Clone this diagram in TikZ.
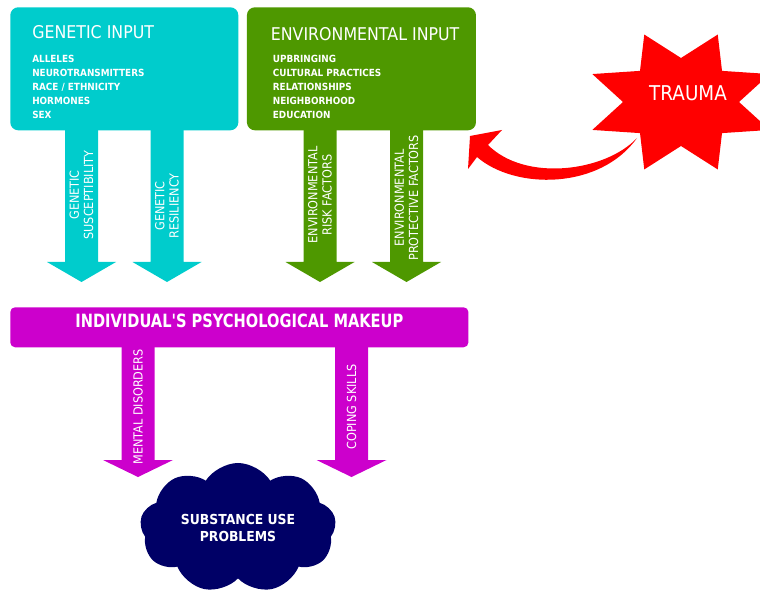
\documentclass[tikz,border=0pt]{standalone}
\usepackage{fontspec}
\setmainfont{DejaVu Sans}[FakeStretch=0.9]
\newfontfamily\narrowsf{DejaVu Sans}[FakeStretch=0.8]
\usetikzlibrary{positioning, shapes.symbols}
\definecolor{genC}{RGB}{0,204,204}
\definecolor{envC}{RGB}{78,152,0}
\definecolor{psyC}{RGB}{204,0,204}
\definecolor{subC}{RGB}{0,0,102}
\definecolor{trC}{RGB}{255,0,0}
\tikzset{
  inbox/.style={rounded corners=0.2cm, inner sep=0pt, minimum width=5.7cm, minimum height=3.075cm},
  ttl/.style={text=white, inner sep=0pt, font=\fontsize{12.5}{14}\selectfont},
  lst/.style={text=white, inner sep=0pt, align=left, font=\bfseries\fontsize{7}{9.96}\selectfont},
  flab/.style={text=white, inner sep=0pt, align=center, rotate=90, font=\fontsize{8.9}{10.2}\selectfont}
}

\begin{document}
\begin{tikzpicture}[x=0.025cm, y=-0.025cm]
\useasboundingbox (0,0) rectangle (760,596);
% input boxes
\node[inbox, fill=genC, anchor=north west] (gen) at (10,7) {};
\node[inbox, fill=envC, minimum width=5.725cm, right=0.2cm of gen] (env) {};
\node[ttl, below right=0.45cm and 0.55cm of gen.north west] (gent) {GENETIC INPUT};
\node[lst, below right=1.2cm and 0.55cm of gen.north west] (genl)
  {ALLELES\\NEUROTRANSMITTERS\\RACE / ETHNICITY\\HORMONES\\SEX};
\node[ttl, below right=0.5cm and 0.6cm of env.north west] (envt) {ENVIRONMENTAL INPUT};
\node[lst, below right=1.2cm and 0.65cm of env.north west] (envl)
  {UPBRINGING\\CULTURAL PRACTICES\\RELATIONSHIPS\\NEIGHBORHOOD\\EDUCATION};

% fat arrows down to the makeup bar
\foreach \cx/\ly/\col/\txt [count=\i] in {81.5/195/genC/{GENETIC\\SUSCEPTIBILITY},
    167/206/genC/{GENETIC\\RESILIENCY}, 320/195/envC/{ENVIRONMENTAL\\RISK FACTORS},
    406.5/198/envC/{ENVIRONMENTAL\\PROTECTIVE FACTORS}} {
  \fill[\col] (\cx-16.5,125) -- (\cx-16.5,262) -- (\cx-34.5,262) -- (\cx,282)
    -- (\cx+34.5,262) -- (\cx+16.5,262) -- (\cx+16.5,125) -- cycle;
  \node[flab] (in\i) at (\cx,\ly) {\txt};
}

% makeup bar
\node[fill=psyC, rounded corners=0.12cm, minimum width=11.45cm, minimum height=1cm,
  inner sep=0pt, anchor=north west] (psy) at (10,307) {};
\node[text=white, inner sep=0pt, font=\narrowsf\bfseries\fontsize{13}{15}\selectfont]
  (psyt) at ([yshift=0.15cm]psy.center) {INDIVIDUAL'S PSYCHOLOGICAL MAKEUP};
\foreach \cx/\txt [count=\i] in {138/MENTAL DISORDERS, 351.5/COPING SKILLS} {
  \fill[psyC] (\cx-16.5,342) -- (\cx-16.5,460) -- (\cx-35,460) -- (\cx,477)
    -- (\cx+35,460) -- (\cx+16.5,460) -- (\cx+16.5,342) -- cycle;
  \node[flab] (out\i) at (\cx,407) {\txt};
}

% outcome
\node[cloud, cloud puffs=9, cloud puff arc=115, cloud ignores aspect, fill=subC,
  minimum width=4.9cm, minimum height=3.25cm, text=white, align=center,
  font=\bfseries\fontsize{9.8}{11.5}\selectfont] (sub) at (238,528)
  {SUBSTANCE USE\\PROBLEMS};

% trauma star and its arrow
\coordinate (trc) at (681,102);
\fill[trC, shift={(trc)}] (0:58 and 44)
  \foreach \a in {0,45,...,315} { -- (\a:58 and 44) -- (\a+22.5:96 and 73) } -- cycle;
\node[text=white, inner sep=0pt, font=\fontsize{14.5}{16}\selectfont] (trauma) at (688,93) {TRAUMA};
\coordinate (rtail) at (637,138);
\coordinate (rtip) at (470,136);
\fill[trC] (rtail) .. controls (605,172) and (525,182) .. (488,145) -- (502,130) -- (rtip)
  -- (468,169) -- (477,157) .. controls (515,190) and (600,190) .. (rtail) -- cycle;
\end{tikzpicture}
\end{document}
